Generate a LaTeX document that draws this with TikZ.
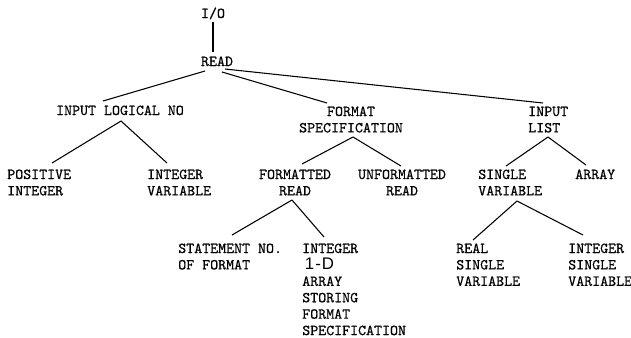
\documentclass[tikz,border=0pt]{standalone}
\usepackage{fontspec}
\usetikzlibrary{calc}
\newfontfamily\dimfont{Liberation Sans}
\newfontfamily\typew{lmmono10-regular.otf}[FakeBold=0.6]
% stacked label lines, baseline on the first line
\newcommand\stackL[1]{\begin{tabular}[t]{@{}l@{}}#1\end{tabular}}
\newcommand\stackC[1]{\begin{tabular}[t]{@{}c@{}}#1\end{tabular}}
\begin{document}
\begin{tikzpicture}[x=0.75pt,y=-0.75pt,
  lbl/.style={inner sep=0pt, font=\typew\fontsize{11.4}{12.3}\selectfont},
  lblL/.style={lbl, anchor=base west},
  lblC/.style={lbl, anchor=base},
  link/.style={line width=0.8pt}]
\useasboundingbox (0,0) rectangle (631,337);

% level 0 and 1
\node[lblC] (io)   at (213,18) {I/O};
\node[lblC] (read) at (217,66) {READ};

% level 2
\node[lblC] (ilno)  at (120,115) {INPUT LOGICAL NO};
\node[lblC] (fspec) at (351,116) {\stackC{FORMAT\\SPECIFICATION}};
\node[lblL] (ilist) at (528,116) {\stackL{INPUT\\LIST}};

% level 3
\node[lblL] (posint) at (7,179)   {\stackL{POSITIVE\\INTEGER}};
\node[lblL] (intvar) at (147,179) {\stackL{INTEGER\\VARIABLE}};
\node[lblC] (fread)  at (295,179) {\stackC{FORMATTED\\READ}};
\node[lblC] (ufread) at (402,179) {\stackC{UNFORMATTED\\READ}};
\node[lblL] (svar)   at (478,179) {\stackL{SINGLE\\VARIABLE}};
\node[lblL] (array)  at (575,179) {ARRAY};

% level 4
\node[lblL] (stmt)   at (178,253) {\stackL{STATEMENT NO.\\OF FORMAT}};
\node[lblL] (intarr) at (302,253) {\stackL{INTEGER\\\hspace{2pt}{\dimfont\fontsize{12.6}{12.6}\selectfont 1\kern0.06em-\kern0.06em D}\\ARRAY\\STORING\\FORMAT\\SPECIFICATION}};
\node[lblL] (realsv) at (456,253) {\stackL{REAL\\SINGLE\\VARIABLE}};
\node[lblL] (intsv)  at (568,253) {\stackL{INTEGER\\SINGLE\\VARIABLE}};

% connectors
\draw[link] ($(io.base)+(0,4)$)     -- ($(read.base)+(-4,-14)$);
\draw[link] ($(read.base)+(-12,5)$) -- ($(ilno.base)+(-17,-14)$);
\draw[link] ($(read.base)+(5,6)$)   -- ($(fspec.base)+(-24,-13)$);
\draw[link] ($(read.base)+(8,3)$)   -- ($(ilist.base west)+(15,-13)$);

\draw[link] ($(ilno.base)+(1,6)$) -- ($(posint.base west)+(45,-16)$);
\draw[link] ($(ilno.base)+(1,6)$) -- ($(intvar.base west)+(20,-16)$);

\draw[link] ($(fspec.base)+(2,21)$) -- ($(fread.base)+(7,-15)$);
\draw[link] ($(fspec.base)+(2,21)$) -- ($(ufread.base)+(-1,-13)$);

\draw[link] ($(ilist.base west)+(20,21)$) -- ($(svar.base west)+(28,-13)$);
\draw[link] ($(ilist.base west)+(20,21)$) -- ($(array.base west)+(11,-14)$);

\draw[link] ($(fread.base)+(-3,21)$) -- ($(stmt.base west)+(54,-18)$);
\draw[link] ($(fread.base)+(-3,21)$) -- ($(intarr.base west)+(22,-16)$);

\draw[link] ($(svar.base west)+(39,22)$) -- ($(realsv.base west)+(17,-13)$);
\draw[link] ($(svar.base west)+(39,22)$) -- ($(intsv.base west)+(15,-18)$);
\end{tikzpicture}
\end{document}
